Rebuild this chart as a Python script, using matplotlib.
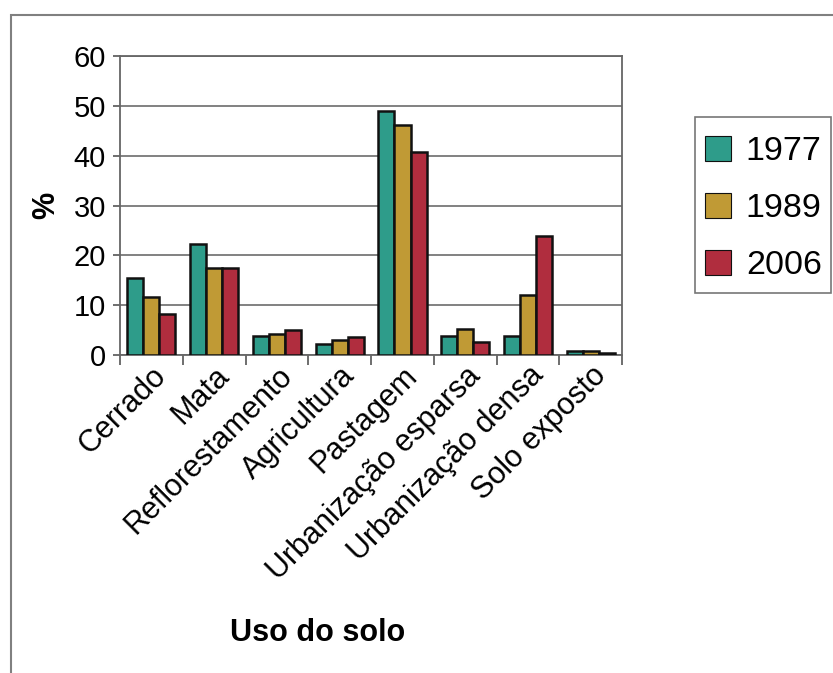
import matplotlib.pyplot as plt
import numpy as np
from matplotlib.patches import Rectangle

plt.rcParams['font.family'] = ['Liberation Sans', 'DejaVu Sans']

# Dados de uso do solo (%)
categorias = ['Cerrado', 'Mata', 'Reflorestamento', 'Agricultura', 'Pastagem',
              'Urbanização esparsa', 'Urbanização densa', 'Solo exposto']
anos = ['1977', '1989', '2006']
v1977 = [15.5, 22.3, 3.8, 2.3, 48.9, 3.9, 3.9, 0.8]
v1989 = [11.7, 17.4, 4.3, 3.0, 46.2, 5.3, 12.1, 0.8]
v2006 = [8.2, 17.4, 5.0, 3.7, 40.7, 2.6, 23.8, 0.35]
cores = ['#2e9c8a', '#c09a35', '#b02d3e']

fig = plt.figure(figsize=(8.33, 6.73), dpi=100)
ax = fig.add_axes([0.144, 0.4725, 0.603, 0.444])

# Moldura da figura
fig.patches.append(Rectangle((11 / 833, -0.1), 1.2, 1 - 15 / 673 + 0.1,
                             transform=fig.transFigure, fill=False,
                             edgecolor='#808080', linewidth=1.5))

x = np.arange(len(categorias))
largura = 0.255
for i, (serie, cor, ano) in enumerate(zip([v1977, v1989, v2006], cores, anos)):
    ax.bar(x + (i - 1) * largura, serie, largura, color=cor,
           edgecolor='#111111', linewidth=1.8, label=ano, zorder=3)

ax.set_xlim(-0.5, len(categorias) - 0.5)
ax.set_ylim(0, 60)
ax.set_yticks(range(0, 61, 10))
ax.yaxis.grid(True, color='#777777', linewidth=1.3, zorder=0)
ax.tick_params(axis='y', labelsize=21, length=5, width=1.2, color='#555555', pad=5)

ax.set_xticks(x)
ax.set_xticklabels(categorias, rotation=45, ha='right', rotation_mode='anchor',
                   fontsize=22)
ax.tick_params(axis='x', which='major', length=0, pad=4)
ax.set_xticks(np.arange(-0.5, len(categorias), 1), minor=True)
ax.tick_params(axis='x', which='minor', length=7, width=1.2, color='#555555')

for s in ax.spines.values():
    s.set_color('#666666')
    s.set_linewidth(1.3)

ax.set_ylabel('%', fontsize=22, fontweight='bold', labelpad=9)
fig.text(318 / 833, 1 - 633 / 673, 'Uso do solo', fontsize=22,
         fontweight='bold', ha='center', va='center')

# Legenda: moldura desenhada à parte
fig.patches.append(Rectangle((695 / 833, 1 - 293 / 673), 136 / 833, 176 / 673,
                             transform=fig.transFigure, facecolor='white',
                             edgecolor='#777777', linewidth=1.2, zorder=5))
leg = fig.legend(loc='upper left', bbox_to_anchor=(705 / 833, 1 - 136 / 673),
                 fontsize=24.5, handlelength=0.75, handleheight=0.75,
                 labelspacing=0.75, handletextpad=0.45, borderpad=0,
                 frameon=False, borderaxespad=0)
for h in leg.legend_handles:
    h.set_linewidth(0.8)

fig.savefig('out.png', dpi=100)
